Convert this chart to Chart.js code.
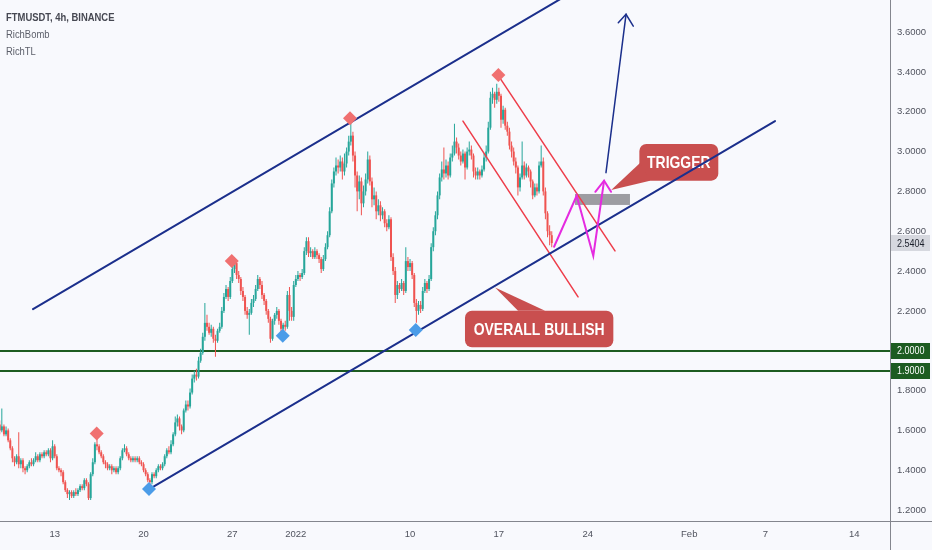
<!DOCTYPE html>
<html>
<head>
<meta charset="utf-8">
<script src="https://cdn.jsdelivr.net/npm/chart.js@4.4.1/dist/chart.umd.min.js"></script>
<style>
  html, body { margin: 0; padding: 0; background: #f8f9fd; }
  canvas { display: block; }
</style>
</head>
<body>
<canvas id="chart" width="932" height="550"></canvas>
<script>
// FTMUSDT, 4h bars from Binance. The horizontal axis counts days since 1 Dec 2021 00:00.
const firstBarDay = 7 + 16 / 24;   // 8 Dec 2021, 16:00
const barDays = 1 / 6;             // one 4h bar
const firstOpen = 1.63;

const closes = [
  1.60,1.62,1.58,1.60,1.55,1.51,1.46,1.44,1.47,1.43,
  1.45,1.41,1.40,1.42,1.44,1.43,1.45,1.47,1.45,1.48,
  1.47,1.49,1.48,1.50,1.46,1.52,1.47,1.41,1.40,1.39,
  1.34,1.30,1.28,1.29,1.27,1.29,1.28,1.30,1.32,1.31,
  1.35,1.33,1.26,1.38,1.44,1.53,1.52,1.49,1.47,1.44,
  1.43,1.41,1.42,1.40,1.41,1.39,1.41,1.46,1.50,1.51,
  1.48,1.46,1.45,1.46,1.45,1.46,1.44,1.43,1.40,1.38,
  1.35,1.34,1.38,1.37,1.40,1.42,1.41,1.43,1.47,1.50,
  1.49,1.53,1.58,1.64,1.66,1.62,1.60,1.70,1.73,1.72,
  1.79,1.86,1.88,1.87,1.95,1.99,2.07,2.14,2.12,2.09,
  2.11,2.06,2.05,2.10,2.12,2.20,2.27,2.31,2.27,2.35,
  2.41,2.44,2.38,2.36,2.30,2.27,2.20,2.18,2.19,2.24,
  2.26,2.31,2.36,2.33,2.28,2.25,2.20,2.16,2.06,2.15,
  2.18,2.20,2.15,2.11,2.13,2.12,2.28,2.20,2.17,2.33,
  2.36,2.38,2.37,2.39,2.50,2.55,2.49,2.50,2.47,2.50,
  2.48,2.46,2.41,2.46,2.52,2.58,2.70,2.84,2.90,2.93,
  2.92,2.95,2.90,2.94,3.00,3.05,3.08,2.98,2.88,2.80,
  2.85,2.74,2.80,2.86,2.96,2.85,2.76,2.78,2.70,2.73,
  2.68,2.70,2.64,2.62,2.66,2.47,2.40,2.28,2.33,2.31,
  2.34,2.30,2.45,2.42,2.44,2.38,2.24,2.20,2.23,2.21,
  2.30,2.34,2.31,2.36,2.52,2.60,2.68,2.78,2.87,2.91,
  2.89,2.93,2.88,2.97,2.99,3.05,3.02,2.98,2.95,2.99,
  2.92,3.00,3.01,2.98,2.90,2.88,2.90,2.88,2.91,2.97,
  3.00,3.12,3.27,3.29,3.26,3.30,3.28,3.16,3.21,3.13,
  3.10,3.03,3.00,2.95,2.92,2.82,2.87,2.93,2.88,2.92,
  2.90,2.85,2.78,2.82,2.80,2.93,2.95,2.80,2.69,2.60,
  2.58,2.5404
];

const highs = [
  1.65,1.71,1.63,1.62,1.61,1.56,1.52,1.47,1.48,1.59,
  1.46,1.46,1.42,1.43,1.45,1.46,1.46,1.49,1.48,1.49,
  1.49,1.50,1.50,1.51,1.51,1.55,1.53,1.48,1.42,1.41,
  1.40,1.35,1.31,1.30,1.30,1.30,1.31,1.31,1.33,1.33,
  1.36,1.36,1.34,1.39,1.46,1.54,1.56,1.53,1.50,1.48,
  1.45,1.44,1.43,1.43,1.42,1.42,1.42,1.47,1.51,1.53,
  1.52,1.49,1.47,1.47,1.47,1.47,1.47,1.45,1.44,1.41,
  1.39,1.36,1.39,1.39,1.41,1.43,1.43,1.44,1.48,1.51,
  1.52,1.55,1.59,1.67,1.68,1.67,1.63,1.71,1.75,1.75,
  1.81,1.88,1.90,1.91,1.97,2.01,2.09,2.24,2.18,2.14,
  2.13,2.12,2.08,2.11,2.14,2.22,2.29,2.33,2.32,2.37,
  2.43,2.47,2.45,2.40,2.37,2.32,2.28,2.22,2.21,2.26,
  2.28,2.33,2.38,2.37,2.35,2.29,2.26,2.21,2.17,2.16,
  2.19,2.22,2.21,2.16,2.14,2.15,2.30,2.32,2.22,2.35,
  2.38,2.40,2.39,2.41,2.52,2.57,2.57,2.52,2.51,2.52,
  2.51,2.49,2.47,2.48,2.54,2.60,2.72,2.86,2.92,2.97,
  2.96,2.98,2.97,2.99,3.02,3.08,3.16,3.10,3.00,2.90,
  2.88,2.87,2.83,2.89,3.00,2.98,2.87,2.82,2.80,2.76,
  2.75,2.72,2.71,2.66,2.68,2.67,2.49,2.42,2.35,2.34,
  2.36,2.35,2.52,2.47,2.46,2.45,2.39,2.26,2.25,2.25,
  2.32,2.36,2.35,2.38,2.54,2.62,2.70,2.80,2.89,2.95,
  3.02,2.96,2.95,2.99,3.03,3.14,3.07,3.04,3.00,3.01,
  3.00,3.02,3.05,3.03,2.99,2.92,2.92,2.91,2.93,2.99,
  3.03,3.15,3.30,3.32,3.30,3.34,3.32,3.29,3.23,3.22,
  3.15,3.12,3.05,3.02,2.97,2.93,2.89,3.05,2.95,2.94,
  2.93,2.91,2.86,2.84,2.84,2.95,3.03,2.97,2.82,2.70,
  2.63,2.60
];

const lows = [
  1.58,1.59,1.57,1.57,1.54,1.50,1.44,1.42,1.43,1.41,
  1.41,1.39,1.38,1.39,1.41,1.42,1.42,1.44,1.44,1.44,
  1.46,1.46,1.47,1.47,1.44,1.45,1.46,1.40,1.39,1.37,
  1.33,1.29,1.26,1.25,1.26,1.26,1.27,1.27,1.29,1.30,
  1.30,1.32,1.25,1.25,1.37,1.43,1.50,1.48,1.46,1.43,
  1.41,1.40,1.40,1.38,1.39,1.38,1.38,1.40,1.45,1.49,
  1.47,1.45,1.44,1.44,1.44,1.44,1.43,1.42,1.39,1.37,
  1.34,1.32,1.33,1.36,1.36,1.39,1.40,1.40,1.42,1.46,
  1.48,1.48,1.52,1.57,1.62,1.60,1.58,1.59,1.69,1.70,
  1.71,1.78,1.84,1.85,1.86,1.94,1.98,2.05,2.10,2.08,
  2.07,2.04,1.97,2.04,2.09,2.11,2.19,2.26,2.25,2.26,
  2.34,2.39,2.36,2.34,2.28,2.25,2.18,2.16,2.08,2.18,
  2.22,2.25,2.30,2.31,2.26,2.23,2.18,2.14,2.04,2.05,
  2.13,2.16,2.13,2.09,2.10,2.10,2.11,2.15,2.15,2.15,
  2.32,2.35,2.35,2.36,2.38,2.48,2.47,2.47,2.46,2.46,
  2.46,2.44,2.39,2.40,2.45,2.51,2.57,2.69,2.82,2.88,
  2.89,2.90,2.86,2.88,2.92,2.98,3.03,2.95,2.82,2.70,
  2.76,2.68,2.72,2.78,2.84,2.83,2.72,2.73,2.66,2.68,
  2.65,2.66,2.62,2.60,2.61,2.45,2.38,2.24,2.26,2.29,
  2.30,2.28,2.29,2.40,2.40,2.36,2.22,2.14,2.18,2.19,
  2.20,2.29,2.29,2.30,2.35,2.50,2.58,2.66,2.76,2.85,
  2.86,2.87,2.86,2.87,2.95,2.98,2.99,2.96,2.93,2.94,
  2.86,2.91,2.98,2.96,2.87,2.86,2.86,2.86,2.87,2.90,
  2.95,2.99,3.11,3.24,3.22,3.24,3.25,3.12,3.14,3.11,
  3.08,3.01,2.97,2.93,2.89,2.78,2.80,2.86,2.86,2.87,
  2.87,2.82,2.76,2.77,2.78,2.79,2.92,2.78,2.66,2.57,
  2.53,2.52
];

// Axis ticks: Mondays / month starts on the time axis, prices on the right.
const dateTicks  = [12, 19, 26, 31, 40, 47, 54, 62, 68, 75];
const dateLabels = ['13', '20', '27', '2022', '10', '17', '24', 'Feb', '7', '14'];
const priceTicks = [1.2, 1.4, 1.6, 1.8, 2.0, 2.2, 2.4, 2.6, 2.8, 3.0, 3.2, 3.4, 3.6];
const viewDays   = [7.69, 77.82];
const viewPrices = [1.145, 3.761];

// Horizontal support levels and last traded price.
const supportLevels = [2.0, 1.9];
const lastPrice = 2.5404;

// RichBomb pivot markers [day, price].
const pivotHighs = [[15.31, 1.584], [25.95, 2.450], [35.27, 3.167], [46.96, 3.384]];
const pivotLows  = [[19.43, 1.306], [29.97, 2.075], [40.45, 2.104]];

// Drawn trend lines [day, price].
const channelUpper = [[10.29, 2.209], [52.76, 3.800]];
const channelLower = [[19.35, 1.301], [68.76, 3.153]];
const flagUpper    = [[47.09, 3.369], [56.15, 2.501]];
const flagLower    = [[44.17, 3.153], [53.24, 2.270]];
const pathZigzag   = [[51.35, 2.522], [53.13, 2.778], [54.44, 2.476], [55.29, 2.854]];
const pathHead     = [[54.60, 2.798], [55.29, 2.854], [55.84, 2.798]];
const targetShaft  = [[55.44, 2.894], [57.02, 3.689]];
const targetHead   = [[56.41, 3.647], [57.02, 3.689], [57.59, 3.630]];
const triggerZone  = [53.00, 2.787, 57.33, 2.732];

// Callouts: box [day0, priceTop, day1, priceBottom], pointer tip and pointer base.
const callouts = [
  { text: 'TRIGGER', box: [58.07, 3.038, 64.29, 2.854],
    tip: [55.85, 2.807], base: [[58.12, 2.942], [58.91, 2.854]] },
  { text: 'OVERALL BULLISH', box: [44.33, 2.201, 56.02, 2.017],
    tip: [46.70, 2.318], base: [[48.51, 2.201], [50.64, 2.201]] }
];

const hasFace = (name) => {
  const c = document.createElement('canvas').getContext('2d');
  const probe = 'FTMUSDT 2022 OVERALL 3.6000';
  c.font = '24px monospace';
  const base = c.measureText(probe).width;
  c.font = `24px "${name}", monospace`;
  return Math.abs(c.measureText(probe).width - base) > 0.5;
};
const narrowFace = hasFace('Liberation Sans Narrow');
const FACE = narrowFace ? '"Liberation Sans Narrow", "Liberation Sans", sans-serif'
                        : '"Liberation Sans", Arial, sans-serif';
const SQUEEZE = narrowFace ? 1 : 0.82;

const UP = '#26a69a', DOWN = '#ef5350';
const NAVY = '#1b2f8c', FLAG = '#ee3d4a', PINK = '#e52be0';

const bars = closes.map((c, i) => ({
  x: firstBarDay + i * barDays,
  o: i ? closes[i - 1] : firstOpen,
  c, h: highs[i], l: lows[i]
}));
const barColors = bars.map(b => (b.c >= b.o ? UP : DOWN));
const toPoints = arr => arr.map(([x, y]) => ({ x, y }));
const lineSet = (data, color, width, order) => ({
  type: 'line', data: toPoints(data), borderColor: color, borderWidth: width,
  pointRadius: 0, fill: false, tension: 0, order, borderCapStyle: 'round', borderJoinStyle: 'miter'
});
const markerSet = (data, color) => ({
  type: 'scatter', data: toPoints(data), pointStyle: 'rectRot', pointRadius: 7,
  backgroundColor: color, borderColor: color, borderWidth: 0, order: 1
});

function squeezedText(ctx, text, x, y, align) {
  ctx.save();
  ctx.translate(x, y);
  ctx.scale(SQUEEZE, 1);
  ctx.textAlign = align;
  ctx.fillText(text, 0, 0);
  ctx.restore();
}

const decorations = {
  id: 'decorations',
  beforeDraw(chart) {
    const { ctx, width, height } = chart;
    ctx.save();
    ctx.fillStyle = '#f8f9fd';
    ctx.fillRect(0, 0, width, height);
    ctx.restore();
  },
  beforeDatasetsDraw(chart) {
    const { ctx, chartArea: a, scales: { x, y } } = chart;
    ctx.save();
    // support levels
    ctx.strokeStyle = '#1d5c21';
    ctx.lineWidth = 2;
    supportLevels.forEach(v => {
      const py = Math.round(y.getPixelForValue(v));
      ctx.beginPath();
      ctx.moveTo(a.left, py);
      ctx.lineTo(a.right, py);
      ctx.stroke();
    });
    // trigger zone
    const [zx0, zy0, zx1, zy1] = triggerZone;
    const L = x.getPixelForValue(zx0), R = x.getPixelForValue(zx1);
    const T = y.getPixelForValue(zy0), B = y.getPixelForValue(zy1);
    ctx.fillStyle = 'rgba(146,146,152,0.9)';
    ctx.fillRect(L, T, R - L, B - T);
    // callouts
    callouts.forEach(n => {
      const [b0, p0, b1, p1] = n.box;
      const bl = x.getPixelForValue(b0), br = x.getPixelForValue(b1);
      const bt = y.getPixelForValue(p0), bb = y.getPixelForValue(p1);
      ctx.fillStyle = '#c94f4f';
      ctx.beginPath();
      ctx.roundRect(bl, bt, br - bl, bb - bt, 7);
      ctx.fill();
      ctx.beginPath();
      ctx.moveTo(x.getPixelForValue(n.tip[0]), y.getPixelForValue(n.tip[1]));
      n.base.forEach(([d, p]) => ctx.lineTo(x.getPixelForValue(d), y.getPixelForValue(p)));
      ctx.closePath();
      ctx.fill();
      ctx.fillStyle = '#ffffff';
      ctx.font = `bold 17px ${FACE}`;
      ctx.textBaseline = 'middle';
      squeezedText(ctx, n.text, (bl + br) / 2, (bt + bb) / 2 + 1, 'center');
    });
    ctx.restore();
  },
  afterDraw(chart) {
    const { ctx, width, height, chartArea: a, scales: { y } } = chart;
    ctx.save();
    // frame between plot and axes
    ctx.strokeStyle = '#84868e';
    ctx.lineWidth = 1;
    ctx.beginPath();
    ctx.moveTo(a.right + 0.5, 0);
    ctx.lineTo(a.right + 0.5, height);
    ctx.moveTo(0, a.bottom + 0.5);
    ctx.lineTo(width, a.bottom + 0.5);
    ctx.stroke();
    // price tags on the axis
    const tag = (value, bg, fg) => {
      const py = y.getPixelForValue(value);
      ctx.fillStyle = bg;
      ctx.fillRect(a.right + 1, Math.round(py) - 8, 39, 16);
      ctx.fillStyle = fg;
      ctx.font = `11px ${FACE}`;
      ctx.textBaseline = 'middle';
      squeezedText(ctx, value.toFixed(4), a.right + 7, py + 0.5, 'left');
    };
    supportLevels.forEach(v => tag(v, '#1d5c21', '#ffffff'));
    tag(lastPrice, '#d6d8df', '#1e222d');
    // symbol header
    ctx.textBaseline = 'alphabetic';
    ctx.fillStyle = '#464852';
    ctx.font = `bold 11.5px ${FACE}`;
    squeezedText(ctx, 'FTMUSDT, 4h, BINANCE', 6, 21, 'left');
    ctx.fillStyle = '#5c5f6a';
    ctx.font = `11.5px ${FACE}`;
    squeezedText(ctx, 'RichBomb', 6, 38, 'left');
    squeezedText(ctx, 'RichTL', 6, 55, 'left');
    ctx.restore();
  }
};

Chart.defaults.font.family = FACE;
Chart.defaults.font.size = narrowFace ? 11 : 9.5;

new Chart(document.getElementById('chart'), {
  type: 'bar',
  data: {
    datasets: [
      markerSet(pivotHighs, '#f07070'),
      markerSet(pivotLows, '#4b9ce8'),
      lineSet(pathZigzag, PINK, 2, 2),
      lineSet(pathHead, PINK, 2, 2),
      lineSet(targetShaft, NAVY, 1.5, 2),
      lineSet(targetHead, NAVY, 1.5, 2),
      lineSet(channelUpper, NAVY, 2, 3),
      lineSet(channelLower, NAVY, 2, 3),
      lineSet(flagUpper, FLAG, 1.5, 3),
      lineSet(flagLower, FLAG, 1.5, 3),
      {
        type: 'bar', order: 5, grouped: false, barThickness: 2, minBarLength: 1,
        inflateAmount: 0, backgroundColor: barColors,
        data: bars.map(b => ({ x: b.x, y: [b.o, b.c] }))
      },
      {
        type: 'bar', order: 6, grouped: false, barThickness: 1,
        inflateAmount: 0, backgroundColor: barColors,
        data: bars.map(b => ({ x: b.x, y: [b.l, b.h] }))
      }
    ]
  },
  options: {
    responsive: false,
    animation: false,
    events: [],
    layout: { padding: 0, autoPadding: false },
    plugins: { legend: { display: false }, tooltip: { enabled: false } },
    scales: {
      x: {
        type: 'linear', position: 'bottom', bounds: 'data', offset: false,
        min: viewDays[0], max: viewDays[1],
        grid: { display: false, drawTicks: false }, border: { display: false },
        afterBuildTicks: s => { s.ticks = dateTicks.map(v => ({ value: v })); },
        afterFit: s => { s.height = 29; s.paddingLeft = 0; s.paddingRight = 0; },
        ticks: {
          autoSkip: false, maxRotation: 0, padding: 8, color: '#50535e',
          callback: v => dateLabels[dateTicks.indexOf(v)] ?? ''
        }
      },
      y: {
        type: 'linear', position: 'right', bounds: 'data',
        min: viewPrices[0], max: viewPrices[1],
        grid: { display: false, drawTicks: false }, border: { display: false },
        afterBuildTicks: s => { s.ticks = priceTicks.map(v => ({ value: v })); },
        afterFit: s => { s.width = 42; s.paddingTop = 0; s.paddingBottom = 0; },
        ticks: { padding: 7, color: '#50535e', callback: v => v.toFixed(4) }
      }
    }
  },
  plugins: [decorations]
});
</script>
</body>
</html>
